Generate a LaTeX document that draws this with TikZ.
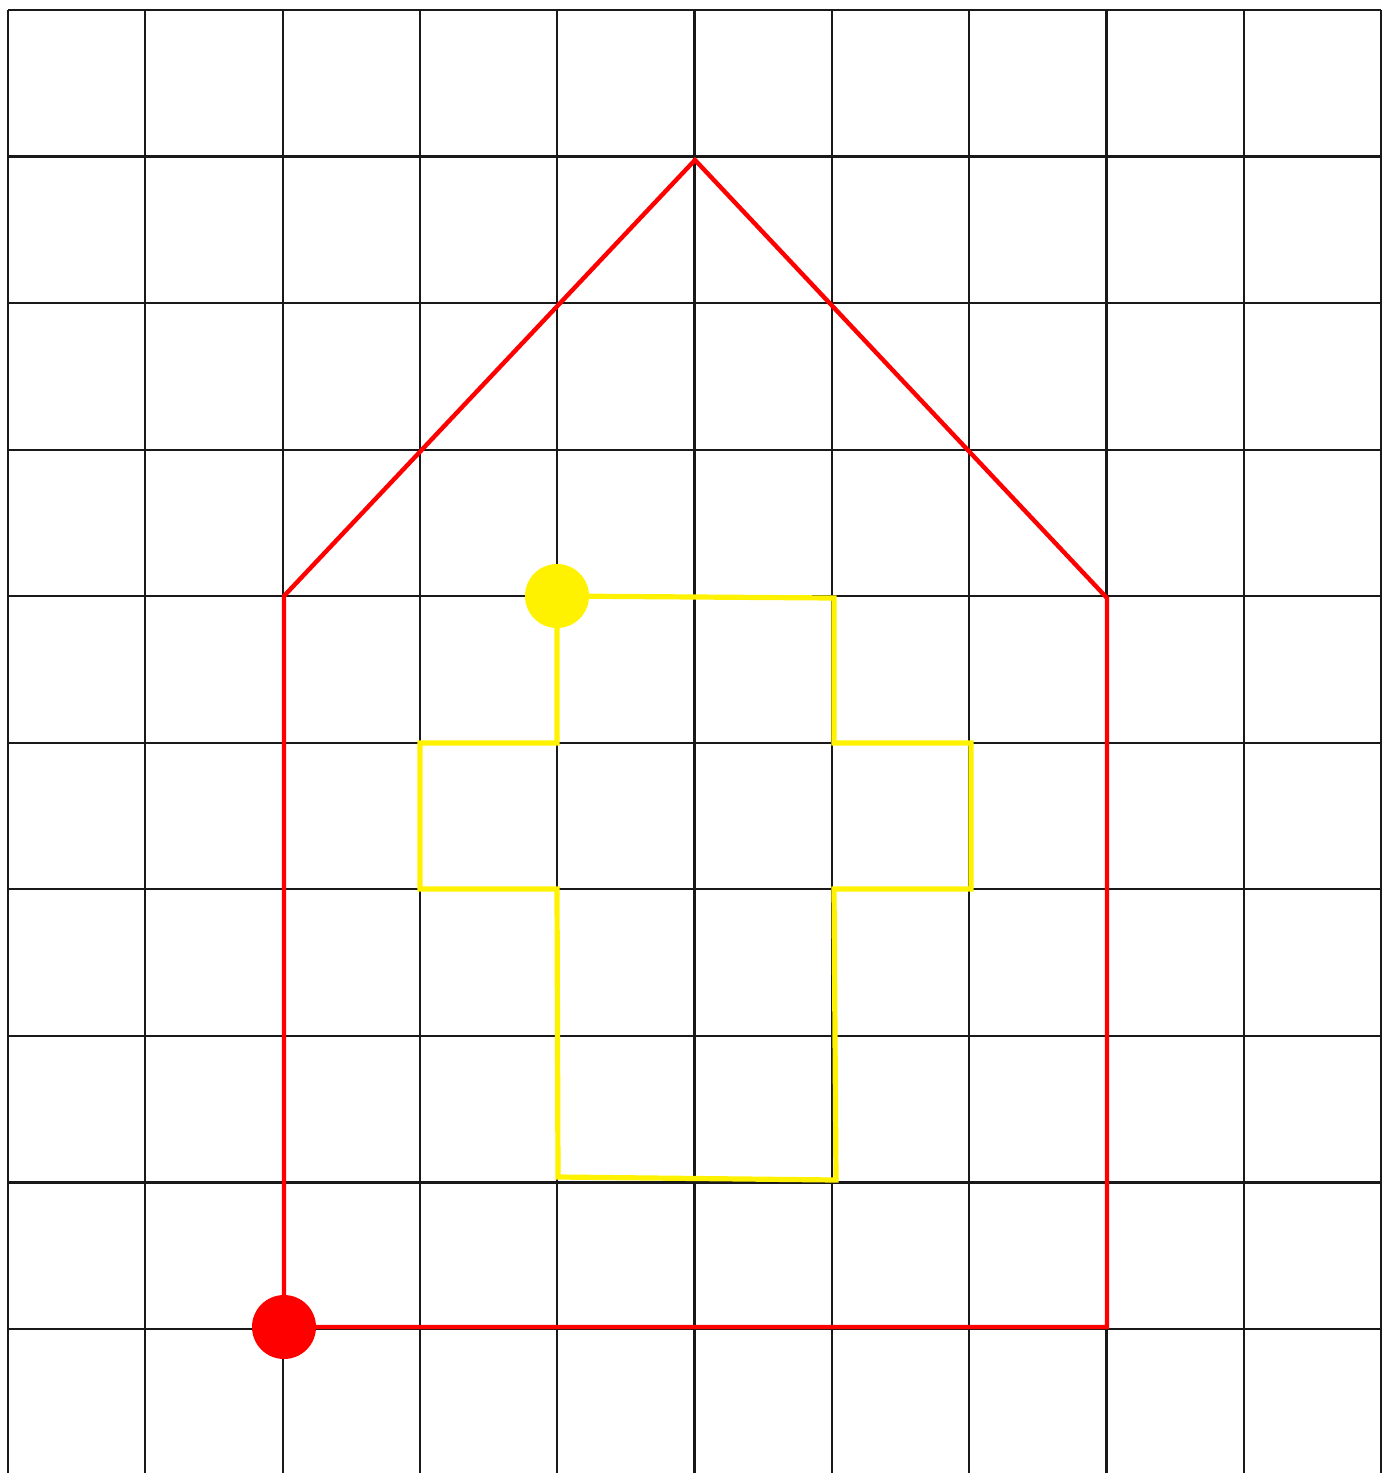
\documentclass[tikz,border=0pt]{standalone}
\begin{document}
\begin{tikzpicture}[x=0.5pt,y=-0.5pt,
  gridline/.style={black!90,line width=1.1pt},
  redline/.style={red,line width=2.2pt,line join=miter},
  yelline/.style={yellow,line width=2.6pt,line join=miter},
  dot/.style={circle,inner sep=0pt,minimum size=32pt}]
\useasboundingbox (0,0) rectangle (1383,1473);
\fill[white] (0,0) rectangle (1383,1473);
% grid
\foreach \i in {0,...,10}{
  \draw[gridline] ({8+\i*137.3},10) -- ({8+\i*137.3},1473);
}
\foreach \j in {0,...,9}{
  \draw[gridline] (8,{10+\j*146.56}) -- (1381,{10+\j*146.56});
}
% red house
\coordinate (r1) at (284,1327);
\coordinate (r2) at (284,596);
\coordinate (r3) at (695,160);
\coordinate (r4) at (1107,598);
\coordinate (r5) at (1107,1327);
\draw[redline] (r1) -- (r2) -- (r3) -- (r4) -- (r5) -- cycle;
% yellow cross
\coordinate (y1) at (557,596);
\coordinate (y2) at (834,598);
\coordinate (y3) at (834,743);
\coordinate (y4) at (971,743);
\coordinate (y5) at (971,889);
\coordinate (y6) at (834,889);
\coordinate (y7) at (836,1180);
\coordinate (y8) at (558,1177);
\coordinate (y9) at (557,889);
\coordinate (y10) at (420,889);
\coordinate (y11) at (420,743);
\coordinate (y12) at (557,743);
\draw[yelline] (y1) -- (y2) -- (y3) -- (y4) -- (y5) -- (y6) -- (y7) -- (y8) -- (y9) -- (y10) -- (y11) -- (y12) -- cycle;
% dots
\node[dot,fill=red] (reddot) at (r1) {};
\node[dot,fill=yellow] (yeldot) at (y1) {};
\end{tikzpicture}
\end{document}
